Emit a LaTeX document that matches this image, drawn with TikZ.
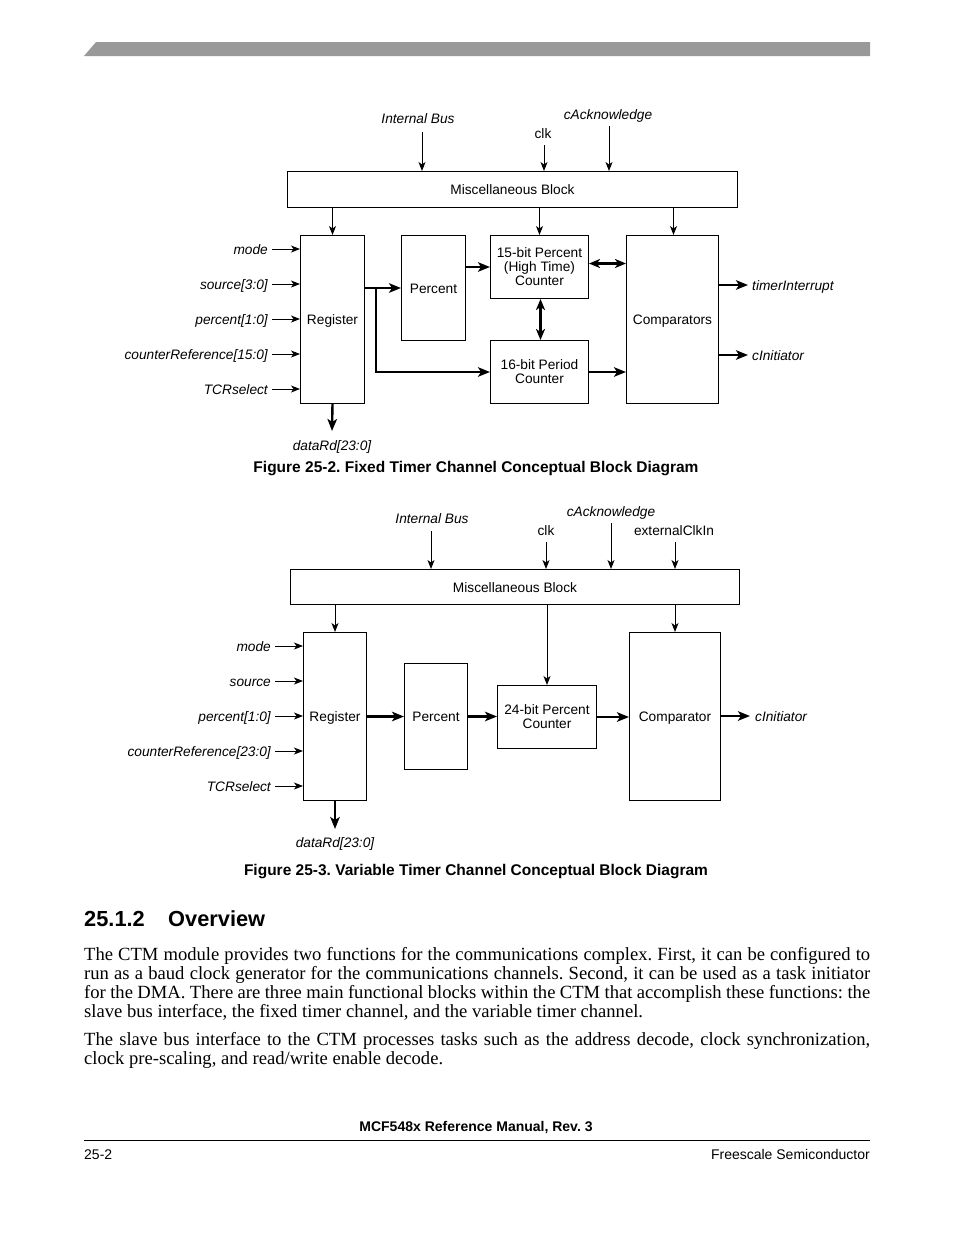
\documentclass[tikz,border=0pt]{standalone}
\usepackage{fontspec}
\setmainfont{Liberation Serif}
\newfontfamily\hv{Liberation Sans}
\usetikzlibrary{arrows.meta}
\definecolor{barcol}{HTML}{999999}
\frenchspacing
\tikzset{
  box/.style={draw, line width=1pt, inner sep=0pt, align=center,
    font=\hv\fontsize{13.7}{14}\selectfont},
  sbox/.style={box, text height=12pt, text depth=2pt},
  lab/.style={inner sep=0pt, font=\hv\itshape\fontsize{13.7}{14}\selectfont},
  rlab/.style={inner sep=0pt, font=\hv\fontsize{13.7}{14}\selectfont},
  figcap/.style={inner sep=0pt, font=\hv\bfseries\fontsize{15.5}{17}\selectfont},
  thinarr/.style={line width=1pt, -{Stealth[length=9pt,width=7pt,inset=2.5pt]}},
  thickarr/.style={line width=2.4pt, -{Stealth[length=12pt,width=9.5pt,inset=3pt]}},
  dblarr/.style={line width=2.4pt, {Stealth[length=11pt,width=9pt,inset=3pt]}-{Stealth[length=11pt,width=9pt,inset=3pt]}},
  bodytext/.style={inner sep=0pt, anchor=north west, text width=786pt, align=justify,
    font=\fontsize{18.6}{19}\selectfont}
}
\begin{document}
\begin{tikzpicture}[x=1pt,y=-1pt]
\useasboundingbox (0,0) rectangle (954,1235);
% header bar
\fill[barcol] (84,56) -- (96,42) -- (870,42) -- (870,56) -- cycle;

% ================= Figure 25-2 =================
\node[sbox, minimum width=450, minimum height=36, anchor=north west] (misc1) at (287,171) {Miscellaneous Block};
\node[lab, anchor=base] (ib1) at (418,123) {Internal Bus};
\node[rlab, anchor=base] (clk1) at (543,138) {clk};
\node[lab, anchor=base] (ack1) at (608,119) {cAcknowledge};
\coordinate (ib1s) at (422,132);
\coordinate (clk1s) at (544,145);
\coordinate (ack1s) at (609,126);
\draw[thinarr] (ib1s) -- (ib1s |- misc1.north);
\draw[thinarr] (clk1s) -- (clk1s |- misc1.north);
\draw[thinarr] (ack1s) -- (ack1s |- misc1.north);

\node[sbox, minimum width=64, minimum height=168, anchor=north west] (reg1) at (300,235) {Register};
\node[sbox, minimum width=64, minimum height=105, anchor=north west] (per1) at (401,235) {Percent};
\node[box, minimum width=98, minimum height=63, anchor=north west] (c15) at (490,235) {15-bit Percent\\(High Time)\\Counter};
\node[box, minimum width=98, minimum height=63, anchor=north west] (p16) at (490,340) {16-bit Period\\Counter};
\node[sbox, minimum width=92, minimum height=168, anchor=north west] (cmp1) at (626,235) {Comparators};

\draw[thinarr] (reg1.north |- misc1.south) -- (reg1.north);
\draw[thinarr] (c15.north |- misc1.south) -- (c15.north);
\draw[thinarr] ([xshift=1pt]cmp1.north |- misc1.south) -- ([xshift=1pt]cmp1.north);

\foreach \y/\t/\n in {249/mode/a, 284/{source[3:0]}/b, 319/{percent[1:0]}/c, 354/{counterReference[15:0]}/d, 389/TCRselect/e} {
  \node[lab, anchor=base east] (inA\n) at (268,\y+5) {\t};
  \coordinate (sA\n) at (272,\y);
  \draw[thinarr] (sA\n) -- (sA\n -| reg1.west);
}

\coordinate (br1) at (376,287.5);
\draw[thickarr] (reg1.east |- per1.west) -- (per1.west);
\draw[thickarr] (br1) |- (p16.west);
\draw[thickarr] (per1.east |- c15.west) -- (c15.west);
\draw[dblarr] ([yshift=3.5pt]c15.east) -- ([yshift=3.5pt]c15.east -| cmp1.west);
\draw[dblarr] ([xshift=1pt]c15.south) -- ([xshift=1pt]p16.north);
\draw[thickarr] (p16.east) -- (p16.east -| cmp1.west);

\node[lab, anchor=base west] (ti1) at (752,290) {timerInterrupt};
\node[lab, anchor=base west] (ci1) at (752,360) {cInitiator};
\coordinate (ti1e) at (748,285);
\coordinate (ci1e) at (748,355);
\draw[thickarr] (ti1e -| cmp1.east) -- (ti1e);
\draw[thickarr] (ci1e -| cmp1.east) -- (ci1e);

\coordinate (d1e) at (332,431);
\draw[thickarr] (reg1.south) -- (d1e);
\node[lab, anchor=base] (dr1) at (332,450) {dataRd[23:0]};

\node[figcap, anchor=base] (cap1) at (476,472) {Figure 25-2. Fixed Timer Channel Conceptual Block Diagram};

% ================= Figure 25-3 =================
\node[sbox, minimum width=449, minimum height=35, anchor=north west] (misc2) at (290,569) {Miscellaneous Block};
\node[lab, anchor=base] (ib2) at (432,523) {Internal Bus};
\node[rlab, anchor=base] (clk2) at (546,535) {clk};
\node[lab, anchor=base] (ack2) at (611,516) {cAcknowledge};
\node[rlab, anchor=base] (ext2) at (674,535) {externalClkIn};
\coordinate (ib2s) at (431,531);
\coordinate (clk2s) at (546,542);
\coordinate (ack2s) at (611,523);
\coordinate (ext2s) at (675,542);
\draw[thinarr] (ib2s) -- (ib2s |- misc2.north);
\draw[thinarr] (clk2s) -- (clk2s |- misc2.north);
\draw[thinarr] (ack2s) -- (ack2s |- misc2.north);
\draw[thinarr] (ext2s) -- (ext2s |- misc2.north);

\node[sbox, minimum width=63, minimum height=168, anchor=north west] (reg2) at (303,632) {Register};
\node[sbox, minimum width=63, minimum height=106, anchor=north west] (per2) at (404,663) {Percent};
\node[box, minimum width=99, minimum height=63, anchor=north west] (c24) at (497,685) {24-bit Percent\\Counter};
\node[sbox, minimum width=91, minimum height=168, anchor=north west] (cmp2) at (629,632) {Comparator};

\draw[thinarr] (reg2.north |- misc2.south) -- (reg2.north);
\draw[thinarr] (c24.north |- misc2.south) -- (c24.north);
\draw[thinarr] (cmp2.north |- misc2.south) -- (cmp2.north);

\foreach \y/\t/\n in {646/mode/a, 681/source/b, 716/{percent[1:0]}/c, 751/{counterReference[23:0]}/d, 786/TCRselect/e} {
  \node[lab, anchor=base east] (inB\n) at (271,\y+5) {\t};
  \coordinate (sB\n) at (275,\y);
  \draw[thinarr] (sB\n) -- (sB\n -| reg2.west);
}

\draw[thickarr] (reg2.east) -- (reg2.east -| per2.west);
\draw[thickarr] (per2.east) -- (per2.east -| c24.west);
\draw[thickarr] (c24.east) -- (c24.east -| cmp2.west);
\node[lab, anchor=base west] (ci2) at (755,721) {cInitiator};
\coordinate (ci2e) at (750,716);
\draw[thickarr] (ci2e -| cmp2.east) -- (ci2e);

\coordinate (d2e) at (335,829);
\draw[thickarr] (reg2.south) -- (d2e);
\node[lab, anchor=base] (dr2) at (335,847) {dataRd[23:0]};

\node[figcap, anchor=base] (cap2) at (476,875) {Figure 25-3. Variable Timer Channel Conceptual Block Diagram};

% ================= Text =================
\node[inner sep=0pt, anchor=base west, font=\hv\bfseries\fontsize{21.8}{24}\selectfont] (secnum) at (84,926) {25.1.2};
\node[inner sep=0pt, anchor=base west, font=\hv\bfseries\fontsize{21.8}{24}\selectfont] (sectitle) at (168,926) {Overview};

\node[bodytext] (para1) at (84,947) {The CTM module provides two functions for the communications complex. First, it can be configured to\linebreak run as a baud clock generator for the communications channels. Second, it can be used as a task initiator\linebreak for the DMA. There are three main functional blocks within the CTM that accomplish these functions: the\linebreak slave bus interface, the fixed timer channel, and the variable timer channel.};
\node[bodytext] (para2) at (84,1032) {The slave bus interface to the CTM processes tasks such as the address decode, clock synchronization,\linebreak clock pre-scaling, and read/write enable decode.};

% ================= Footer =================
\node[inner sep=0pt, anchor=base, font=\hv\bfseries\fontsize{14}{16}\selectfont] (ftitle) at (476,1131) {MCF548x Reference Manual, Rev. 3};
\coordinate (rl) at (84,1140);
\coordinate (rr) at (870,1140);
\draw[line width=1pt] (rl) -- (rr);
\node[inner sep=0pt, anchor=base west, font=\hv\fontsize{14}{16}\selectfont] (fpage) at (84,1159) {25-2};
\node[inner sep=0pt, anchor=base east, font=\hv\fontsize{14}{16}\selectfont] (fco) at (870,1159) {Freescale Semiconductor};
\end{tikzpicture}
\end{document}
